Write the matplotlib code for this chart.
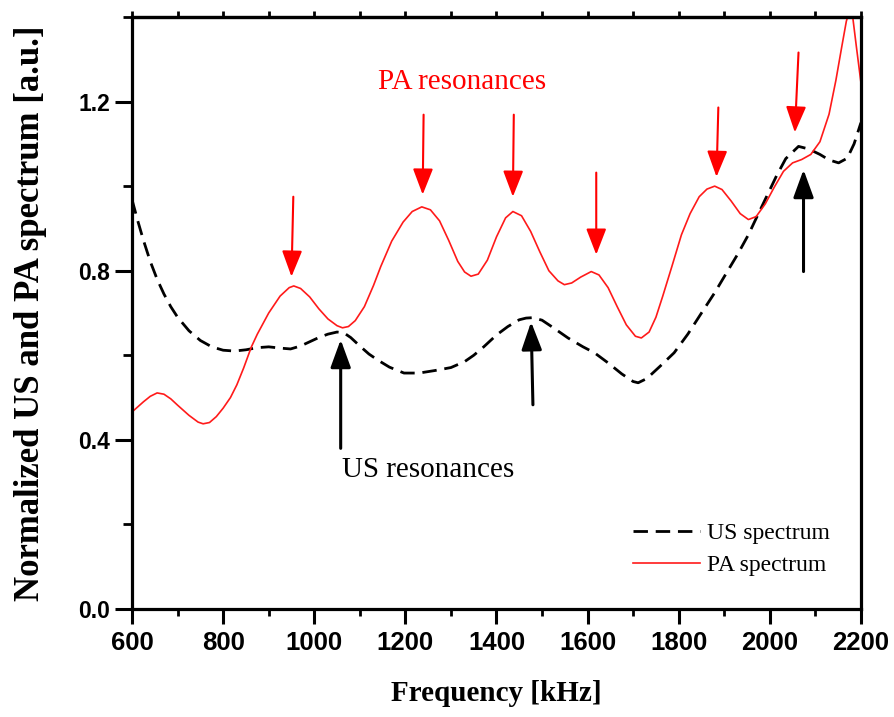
import matplotlib
matplotlib.use("Agg")
import matplotlib.pyplot as plt
from matplotlib.ticker import MultipleLocator

# values (frequency in kHz, normalized amplitude)
pa_freq = [600, 625, 640, 655, 670, 685, 700, 725, 745, 756, 770, 785, 800, 816, 830,
           845, 862, 875, 900, 925, 945, 955, 970, 990, 1010, 1030, 1050, 1062, 1075,
           1090, 1110, 1130, 1146, 1170, 1195, 1215, 1236, 1255, 1275, 1295, 1315, 1330,
           1344, 1360, 1380, 1400, 1420, 1436, 1455, 1475, 1495, 1515, 1535, 1549, 1565,
           1585, 1608, 1625, 1645, 1665, 1685, 1705, 1718, 1735, 1750, 1765, 1785, 1806,
           1825, 1845, 1862, 1879, 1895, 1915, 1935, 1953, 1970, 1990, 2010, 2030, 2050,
           2070, 2090, 2110, 2130, 2145, 2158, 2168, 2175, 2182, 2190, 2200]
pa_value = [0.466, 0.49, 0.503, 0.511, 0.508, 0.497, 0.482, 0.458, 0.442, 0.438, 0.441,
            0.455, 0.475, 0.50, 0.53, 0.57, 0.62, 0.65, 0.70, 0.74, 0.76, 0.764, 0.758,
            0.738, 0.71, 0.686, 0.67, 0.665, 0.668, 0.682, 0.715, 0.765, 0.81, 0.87, 0.915,
            0.94, 0.951, 0.944, 0.918, 0.872, 0.822, 0.797, 0.787, 0.792, 0.825, 0.88,
            0.925, 0.94, 0.93, 0.893, 0.845, 0.8, 0.776, 0.767, 0.771, 0.785, 0.798, 0.79,
            0.76, 0.715, 0.672, 0.645, 0.641, 0.655, 0.69, 0.74, 0.81, 0.885, 0.935, 0.975,
            0.993, 1.0, 0.992, 0.965, 0.935, 0.921, 0.928, 0.958, 0.998, 1.035, 1.055,
            1.063, 1.075, 1.105, 1.17, 1.25, 1.33, 1.39, 1.415, 1.4, 1.33, 1.245]

us_freq = [600, 612, 625, 640, 655, 670, 685, 700, 725, 750, 775, 800, 825, 850, 875,
           900, 925, 948, 970, 990, 1010, 1030, 1050, 1065, 1080, 1100, 1120, 1139, 1165,
           1197, 1230, 1265, 1300, 1330, 1350, 1372, 1400, 1425, 1450, 1465, 1480, 1500,
           1525, 1557, 1590, 1615, 1645, 1675, 1700, 1711, 1730, 1760, 1790, 1820, 1850,
           1879, 1905, 1930, 1953, 1975, 1995, 2015, 2035, 2063, 2085, 2110, 2130, 2151,
           2170, 2185, 2200]
us_value = [0.968, 0.92, 0.872, 0.822, 0.78, 0.745, 0.715, 0.69, 0.658, 0.635, 0.62,
            0.612, 0.61, 0.613, 0.618, 0.62, 0.617, 0.615, 0.622, 0.632, 0.642, 0.65,
            0.655, 0.653, 0.642, 0.622, 0.603, 0.589, 0.572, 0.558, 0.558, 0.564, 0.571,
            0.585, 0.6, 0.62, 0.648, 0.668, 0.684, 0.688, 0.689, 0.683, 0.665, 0.641,
            0.62, 0.606, 0.582, 0.556, 0.538, 0.535, 0.545, 0.575, 0.606, 0.65, 0.7,
            0.748, 0.795, 0.84, 0.885, 0.935, 0.98, 1.025, 1.065, 1.094, 1.088, 1.075,
            1.062, 1.055, 1.066, 1.1, 1.15]

# PA resonance arrows: (tail x, tail y, tip x, tip y)
pa_tail_x = [954, 1240, 1438, 1619, 1887, 2063]
pa_tail_y = [0.975, 1.169, 1.169, 1.032, 1.186, 1.316]
pa_tip_x = [950, 1238, 1436, 1619, 1883, 2055]
pa_tip_y = [0.786, 0.98, 0.975, 0.838, 1.022, 1.127]

# US resonance arrows
us_tail_x = [1058, 1480, 2074]
us_tail_y = [0.38, 0.483, 0.798]
us_tip_x = [1058, 1476, 2074]
us_tip_y = [0.637, 0.679, 1.039]

serif = ["Liberation Serif", "DejaVu Serif"]
sans = ["Liberation Sans", "DejaVu Sans"]

fig = plt.figure(figsize=(8.94, 7.17), dpi=100)
ax = fig.add_axes([0.1477, 0.1506, 0.8153, 0.8257])

ax.plot(us_freq, us_value, color="black", lw=2.0, dashes=(5.2, 2.8), label="US spectrum")
ax.plot(pa_freq, pa_value, color="#ff1a1a", lw=1.2, label="PA spectrum")

for tx, ty, hx, hy in zip(pa_tail_x, pa_tail_y, pa_tip_x, pa_tip_y):
    ax.annotate("", xy=(hx, hy), xytext=(tx, ty),
                arrowprops=dict(arrowstyle="-|>,head_length=1.6,head_width=0.62",
                                color="#ff0000", lw=1.5, shrinkA=0, shrinkB=0,
                                mutation_scale=10))

for tx, ty, hx, hy in zip(us_tail_x, us_tail_y, us_tip_x, us_tip_y):
    ax.annotate("", xy=(hx, hy), xytext=(tx, ty),
                arrowprops=dict(arrowstyle="-|>,head_length=1.7,head_width=0.62",
                                color="black", lw=2.2, shrinkA=0, shrinkB=0,
                                mutation_scale=10))

ax.text(1324, 1.247, "PA resonances", color="#ff0000", fontsize=21, family=serif,
        ha="center", va="center")
ax.text(1251, 0.329, "US resonances", color="black", fontsize=21, family=serif,
        ha="center", va="center")

ax.set_xlim(600, 2200)
ax.set_ylim(0, 1.4)
ax.xaxis.set_major_locator(MultipleLocator(200))
ax.xaxis.set_minor_locator(MultipleLocator(100))
ax.yaxis.set_major_locator(MultipleLocator(0.4))
ax.yaxis.set_minor_locator(MultipleLocator(0.2))

for s in ax.spines.values():
    s.set_linewidth(2.3)

ax.tick_params(axis="x", which="major", direction="out", length=11, width=2.2, pad=5)
ax.tick_params(axis="x", which="minor", direction="out", length=5, width=2.0)
ax.tick_params(axis="y", which="major", direction="out", length=12, width=2.2, pad=4)
ax.tick_params(axis="y", which="minor", direction="out", length=6.5, width=2.0)

for lab in ax.get_xticklabels():
    lab.set_fontfamily(sans)
    lab.set_fontweight("bold")
    lab.set_fontsize(18.5)
for lab in ax.get_yticklabels():
    lab.set_fontfamily(sans)
    lab.set_fontweight("bold")
    lab.set_fontsize(16.5)
ax.yaxis.set_major_formatter(plt.FuncFormatter(lambda v, p: f"{v:.1f}"))

# small ticks on top spine
top = ax.secondary_xaxis("top")
top.xaxis.set_major_locator(MultipleLocator(100))
top.tick_params(direction="out", length=4, width=2.0, labeltop=False)
top.spines["top"].set_linewidth(2.3)

ax.set_xlabel("Frequency [kHz]", fontsize=21, fontweight="bold", family=serif)
ax.set_ylabel("Normalized US and PA spectrum [a.u.]", fontsize=25, fontweight="bold",
              family=serif)
ax.xaxis.set_label_coords(0.5, -0.142)
ax.xaxis.label.set_va("center")
ax.yaxis.set_label_coords(-0.139, 0.5)
ax.yaxis.label.set_va("center")

ax.legend(loc="center left", bbox_to_anchor=(0.675, 0.1005), frameon=False,
          prop={"family": serif, "size": 17}, handlelength=2.8, handletextpad=0.3,
          labelspacing=0.45, borderaxespad=0)

fig.savefig("out.png", dpi=100)
